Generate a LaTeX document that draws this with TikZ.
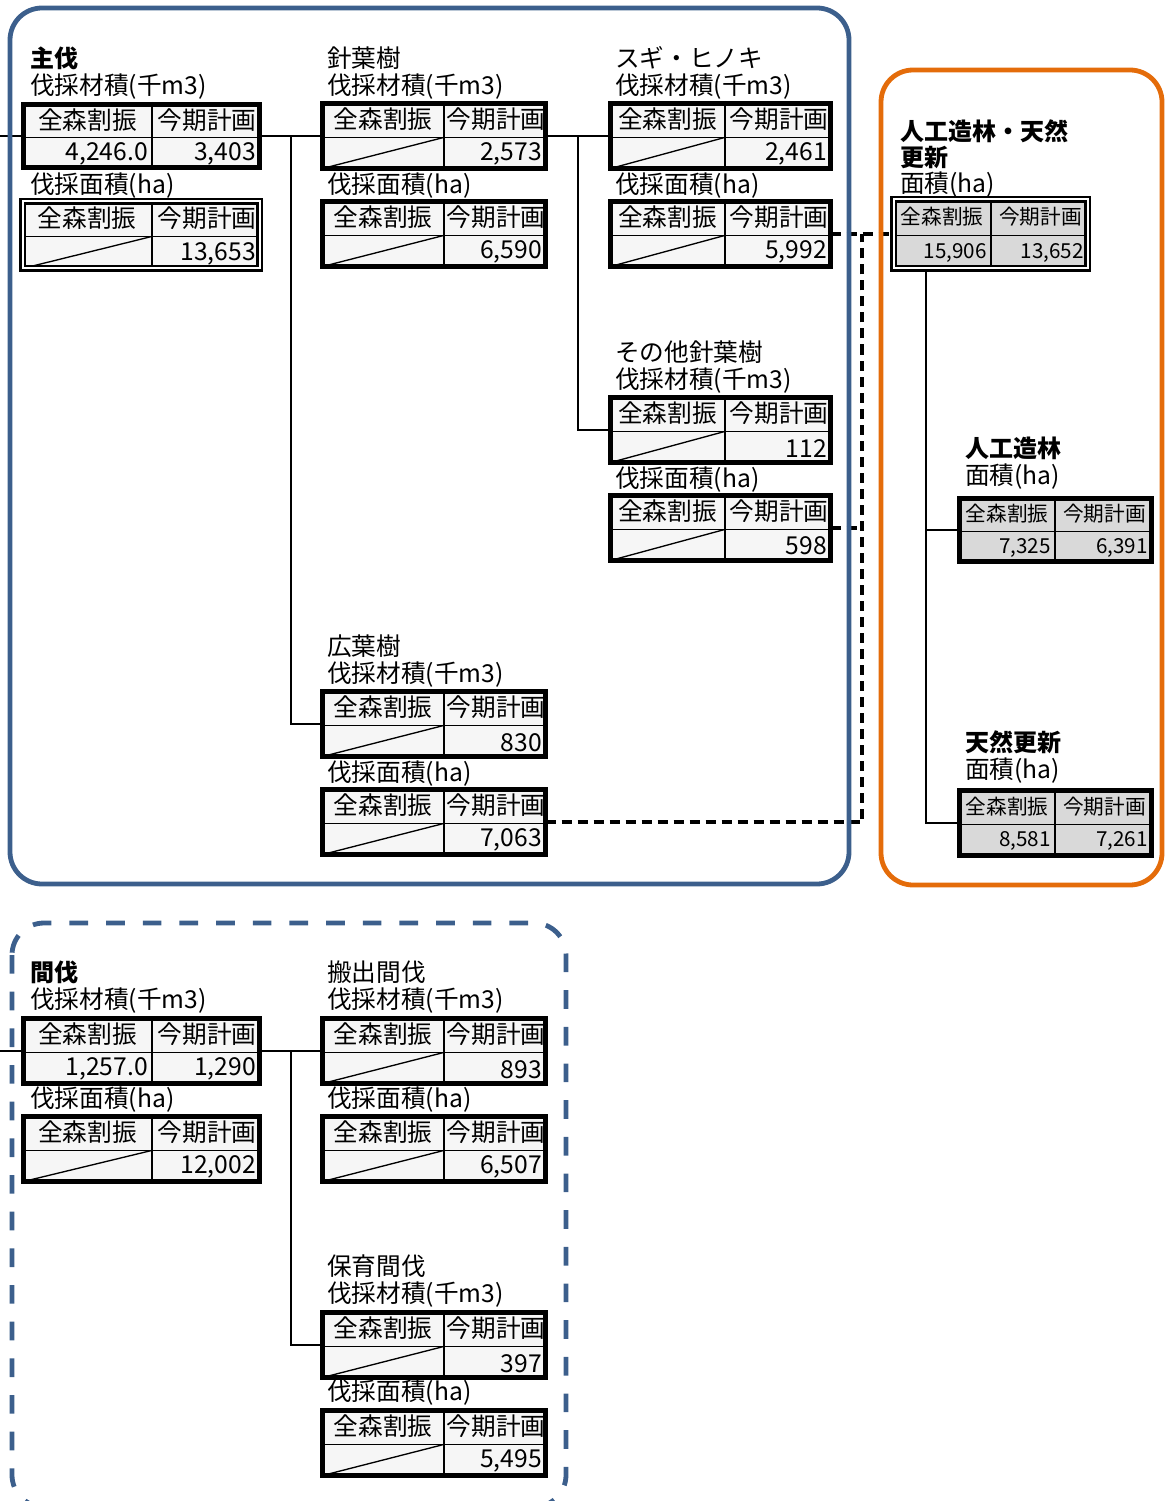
\documentclass[tikz,border=0pt]{standalone}
\usepackage{fontspec}
\setmainfont{Noto Sans CJK JP}
\usetikzlibrary{fit, calc, backgrounds}

\definecolor{grpblue}{RGB}{60,95,140}
\definecolor{grporange}{RGB}{228,108,10}
\definecolor{cellwhite}{RGB}{246,246,246}
\definecolor{cellgray}{RGB}{217,217,217}

\newcommand{\cellfont}{\fontsize{18.5}{22}\selectfont}
\newcommand{\smallcellfont}{\fontsize{15.5}{18}\selectfont}
\newcommand{\labelfont}{\fontsize{18.5}{22}\selectfont}
\newcommand{\titlefont}{\fontsize{18}{22}\selectfont\bfseries}

\tikzset{
  tblframe/.style={inner sep=0pt, outer sep=0pt, fill=cellwhite},
  tblborder/.style={draw=black, line width=3.9pt},
  dbltbl/.style={tblborder/.style={draw=black, line width=1.9pt, double=white, double distance=1.5pt}},
  graytbl/.style={tblframe/.append style={fill=cellgray},
    cellhead/.append style={font=\smallcellfont},
    cellval/.append style={font=\smallcellfont}},
  rowrule/.style={line width=0.9pt},
  colrule/.style={line width=2pt},
  diagrule/.style={line width=1pt},
  cellhead/.style={inner sep=0pt, font=\cellfont},
  cellval/.style={inner sep=0pt, anchor=east, font=\cellfont},
  lbl/.style={inner sep=0pt, anchor=west, font=\labelfont},
  ttl/.style={inner sep=0pt, anchor=west, font=\titlefont},
  link/.style={line width=2.2pt},
  flow/.style={line width=2.5pt, dash pattern=on 7.5pt off 4.5pt},
  grpsolid/.style={line width=3.6pt, rounded corners=24pt},
  grpdash/.style={line width=3.6pt, rounded corners=24pt, dash pattern=on 14pt off 13.5pt},
}

% \datatable[opts]{name}{left}{split}{right}{top}{bottom}{left value}{right value}
\newcommand{\datatable}[9][]{%
  \begin{scope}[#1]
    \node[tblframe, fit={({#3+2.5},{#6+2.5}) ({#5-2.5},{#7-2.5})}] (#2) {};
    \pgfmathsetmacro\rowy{#6+0.52*(#7-#6)}
    \draw[rowrule] (#3,\rowy) -- (#5,\rowy);
    \draw[colrule] (#4,#6) -- (#4,#7);
    \node[cellhead] at ({(#3+#4)/2+1},{(#6+\rowy)/2}) {全森割振};
    \node[cellhead] at ({(#4+#5)/2},{(#6+\rowy)/2}) {今期計画};
    \if\relax\detokenize{#8}\relax
      \draw[diagrule] ({#3+2.5},{#7-2.5}) -- (#4,\rowy);
    \else
      \node[cellval] at ({#4-4},{(\rowy+#7)/2}) {#8};
    \fi
    \node[cellval] at ({#5-6},{(\rowy+#7)/2}) {#9};
    \draw[tblborder] (#2.north west) rectangle (#2.south east);
  \end{scope}}

\begin{document}
\begin{tikzpicture}[x=0.75pt, y=-0.75pt]
  \useasboundingbox (0,0) rectangle (1165,1501);
  \clip (0,0) rectangle (1165,1501);

  % 主伐
  \datatable{shuV}{21}{152}{262}{102}{170}{4,246.0}{3,403}
  \datatable[dbltbl]{shuA}{20}{152}{262}{199}{271}{}{13,653}
  \datatable{shinV}{320}{444}{548}{101}{171}{}{2,573}
  \datatable{shinA}{320}{444}{548}{199}{269}{}{6,590}
  \datatable{sugiV}{608}{725}{833}{101}{171}{}{2,461}
  \datatable{sugiA}{608}{725}{833}{199}{269}{}{5,992}
  \datatable{otherV}{608}{725}{833}{395}{465}{}{112}
  \datatable{otherA}{608}{725}{833}{493}{563}{}{598}
  \datatable{kouV}{320}{444}{548}{689}{759}{}{830}
  \datatable{kouA}{320}{444}{548}{787}{857}{}{7,063}

  % 人工造林・天然更新
  \datatable[graytbl,dbltbl]{zoTen}{891}{991}{1090}{197}{271}{15,906}{13,652}
  \datatable[graytbl]{zorin}{957}{1055}{1154}{496}{564}{7,325}{6,391}
  \datatable[graytbl]{tennen}{957}{1055}{1154}{788}{858}{8,581}{7,261}

  % 間伐
  \datatable{kanV}{21}{152}{262}{1016}{1086}{1,257.0}{1,290}
  \datatable{kanA}{21}{152}{262}{1114}{1184}{}{12,002}
  \datatable{hanV}{320}{444}{548}{1016}{1086}{}{893}
  \datatable{hanA}{320}{444}{548}{1114}{1184}{}{6,507}
  \datatable{hoV}{320}{444}{548}{1310}{1380}{}{397}
  \datatable{hoA}{320}{444}{548}{1408}{1478}{}{5,495}

  % labels
  \foreach \x/\y/\t [count=\i] in {
      30/87/伐採材積(千m3), 30/186/伐採面積(ha),
      327/58/針葉樹, 327/87/伐採材積(千m3), 327/186/伐採面積(ha),
      615/58/スギ・ヒノキ, 615/87/伐採材積(千m3), 615/186/伐採面積(ha),
      615/352/その他針葉樹, 615/381/伐採材積(千m3), 615/480/伐採面積(ha),
      327/646/広葉樹, 327/675/伐採材積(千m3), 327/774/伐採面積(ha),
      900/185/面積(ha), 965/477/面積(ha), 965/771/面積(ha),
      30/1001/伐採材積(千m3), 30/1100/伐採面積(ha),
      327/972/搬出間伐, 327/1001/伐採材積(千m3), 327/1100/伐採面積(ha),
      327/1266/保育間伐, 327/1295/伐採材積(千m3), 327/1393/伐採面積(ha)}
    \node[lbl] (lab\i) at (\x,\y) {\t};
  \foreach \x/\y/\t [count=\i] in {
      30/58/主伐, 900/131/人工造林・天然, 900/158/更新,
      965/448/人工造林, 965/742/天然更新, 30/972/間伐}
    \node[ttl] (ttl\i) at (\x,\y) {\t};

  % connectors
  \coordinate (inTop) at (0,136);
  \coordinate (inBot) at (0,1051);
  \coordinate (rbus) at (926,0);
  \coordinate (dbus) at (862,0);
  \begin{pgfonlayer}{background}
    \draw[link] (inTop) -- (shuV.west);
    \draw[link] (shuV.east) -- (shinV.west);
    \draw[link] ($(shuV.east)!0.5!(shinV.west)$) |- (kouV.west);
    \draw[link] (shinV.east) -- (sugiV.west);
    \draw[link] ($(shinV.east)!0.5!(sugiV.west)$) |- (otherV.west);
    \draw[link] (rbus |- zoTen.south) |- (zorin.west);
    \draw[link] (rbus |- zoTen.south) |- (tennen.west);
    \draw[flow] (sugiA.east) -- (zoTen.west);
    \draw[flow] (kouA.east) -| (dbus |- sugiA.east);
    \draw[flow] (otherA.east) -- (dbus |- otherA.east);
    \draw[link] (inBot) -- (kanV.west);
    \draw[link] (kanV.east) -- (hanV.west);
    \draw[link] ($(kanV.east)!0.5!(hanV.west)$) |- (hoV.west);
  \end{pgfonlayer}

  % groups
  \draw[grpsolid, grpblue] (10,8) rectangle (849,884);
  \draw[grpsolid, grporange] (881,70) rectangle (1162,885);
  \draw[grpdash, grpblue] (12,923) rectangle (566,1507);
\end{tikzpicture}
\end{document}
